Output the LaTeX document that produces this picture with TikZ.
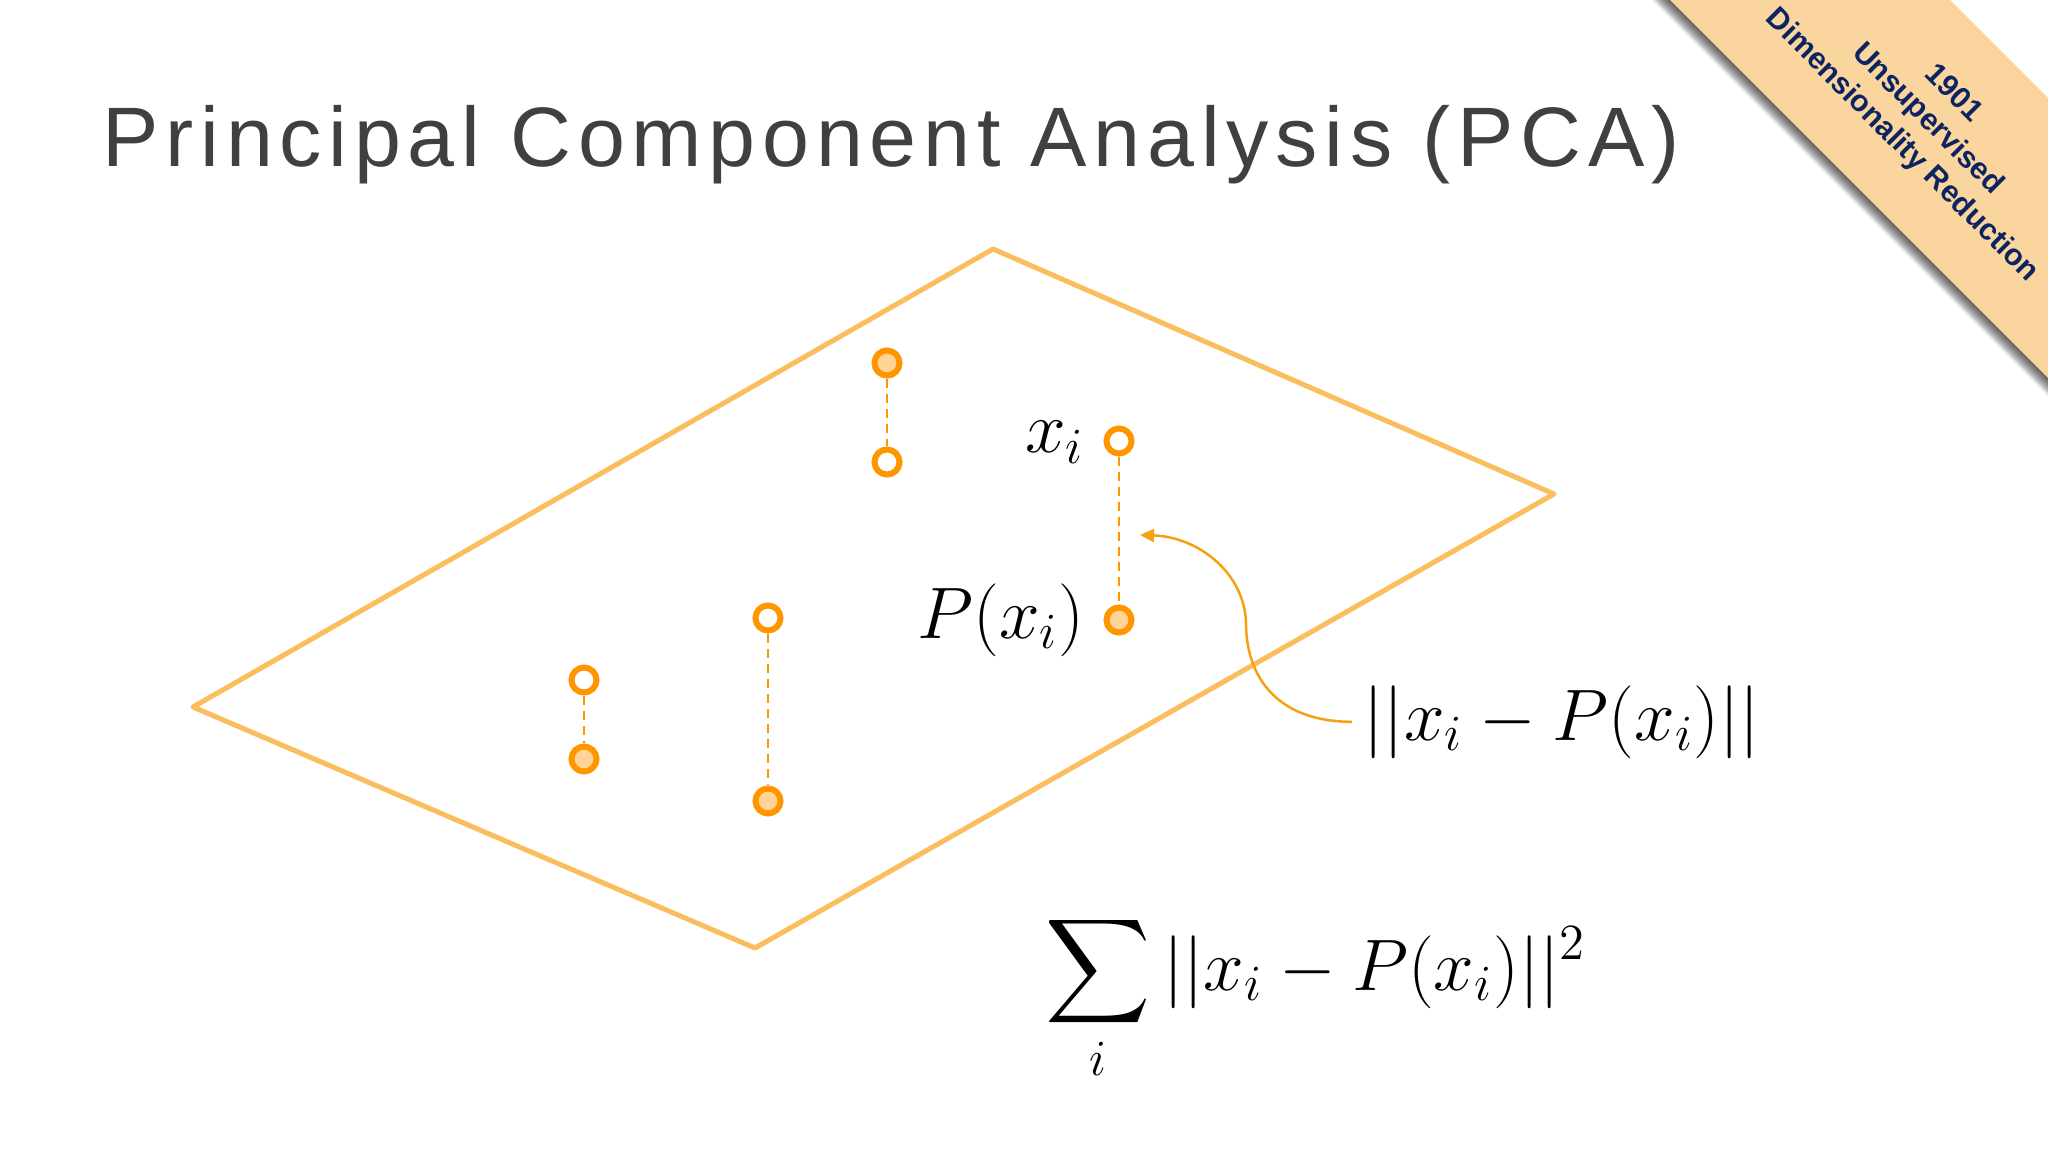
\documentclass[tikz,border=0pt]{standalone}
\usepackage{amsmath}
\usepackage{fontspec}
\usetikzlibrary{arrows.meta}
\newfontfamily\titlefont[LetterSpace=8]{Liberation Sans}
\newfontfamily\ribbonfont{Liberation Sans}
\definecolor{pcaorange}{RGB}{255,150,0}
\definecolor{pcafill}{RGB}{255,212,150}
\definecolor{pcaplane}{RGB}{250,190,95}
\definecolor{pcaarrow}{RGB}{246,160,20}
\definecolor{pcagray}{RGB}{64,64,64}
\definecolor{pcaribbon}{RGB}{250,214,158}
\definecolor{pcanavy}{RGB}{12,36,97}

\begin{document}
\begin{tikzpicture}[x=0.01cm, y=-0.01cm, >=Stealth,
  datapt/.style={circle,draw=pcaorange,line width=0.06cm,fill=white,
                 minimum size=0.25cm,inner sep=0pt},
  projpt/.style={datapt,fill=pcafill},
  projline/.style={pcaorange,line width=0.028cm,dash pattern=on 0.09cm off 0.06cm},
  mathlbl/.style={font=\fontsize{20}{24}\selectfont,inner sep=0pt}]
  \useasboundingbox (0,0) rectangle (2048,1152);
  \fill[white] (0,0) rectangle (2048,1152);

  % title
  \node[anchor=base west,inner sep=0pt,text=pcagray,
        font=\titlefont\fontsize{24}{29}\selectfont] (title) at (102,167)
        {Principal Component Analysis (PCA)};

  % plane
  \draw[pcaplane,line width=0.05cm,line join=round]
    (993,249) -- (1554,494) -- (755,948) -- (193,707) -- cycle;

  % points and their projections
  \node[projpt] (p1) at (887,363) {};
  \node[datapt] (x1) at (887,462) {};
  \node[datapt] (x2) at (1119,441) {};
  \node[projpt] (p2) at (1119,620) {};
  \node[datapt] (x3) at (768,618) {};
  \node[projpt] (p3) at (768,801) {};
  \node[datapt] (x4) at (584,680) {};
  \node[projpt] (p4) at (584,759) {};
  \draw[projline] (p1) -- (x1);
  \draw[projline] (x2) -- (p2);
  \draw[projline] (x3) -- (p3);
  \draw[projline] (x4) -- (p4);

  % labels
  \node[mathlbl,anchor=base east] (xlbl) at (1085,453) {$x_i$};
  \node[mathlbl,anchor=base east] (plbl) at (1085,638) {$P(x_i)$};
  \node[mathlbl,anchor=base west,inner xsep=0.11cm] (dist) at (1352,740)
    {$||x_i - P(x_i)||$};
  \node[mathlbl,anchor=base west] (total) at (1045,990)
    {$\displaystyle\sum_i ||x_i - P(x_i)||^2$};

  \coordinate (tip) at (1140,535);
  \draw[->,pcaarrow,line width=0.025cm,>={Triangle[length=0.14cm,width=0.13cm]}]
    (dist.west) .. controls (1282,722) and (1247,682) .. (1246,625)
    .. controls (1246,575) and (1200,537) .. (tip);

  % corner ribbon
  \begin{scope}
    \clip (0,0) rectangle (2048,1152);
    \foreach \k in {1,...,12}
      \fill[black,opacity=0.07,shift={(-0.3*\k,1.2*\k)}]
        (1600,-70) -- (1880,-70) -- (2300,350) -- (2300,630) -- cycle;
    \fill[pcaribbon] (1600,-70) -- (1880,-70) -- (2300,350) -- (2300,630) -- cycle;
  \end{scope}
  \node[rotate=-45,align=center,text=pcanavy,
        font=\ribbonfont\bfseries\fontsize{8.6}{10.4}\selectfont] (ribbon) at (1927,120)
    {1901\\Unsupervised\\Dimensionality Reduction};
\end{tikzpicture}
\end{document}
